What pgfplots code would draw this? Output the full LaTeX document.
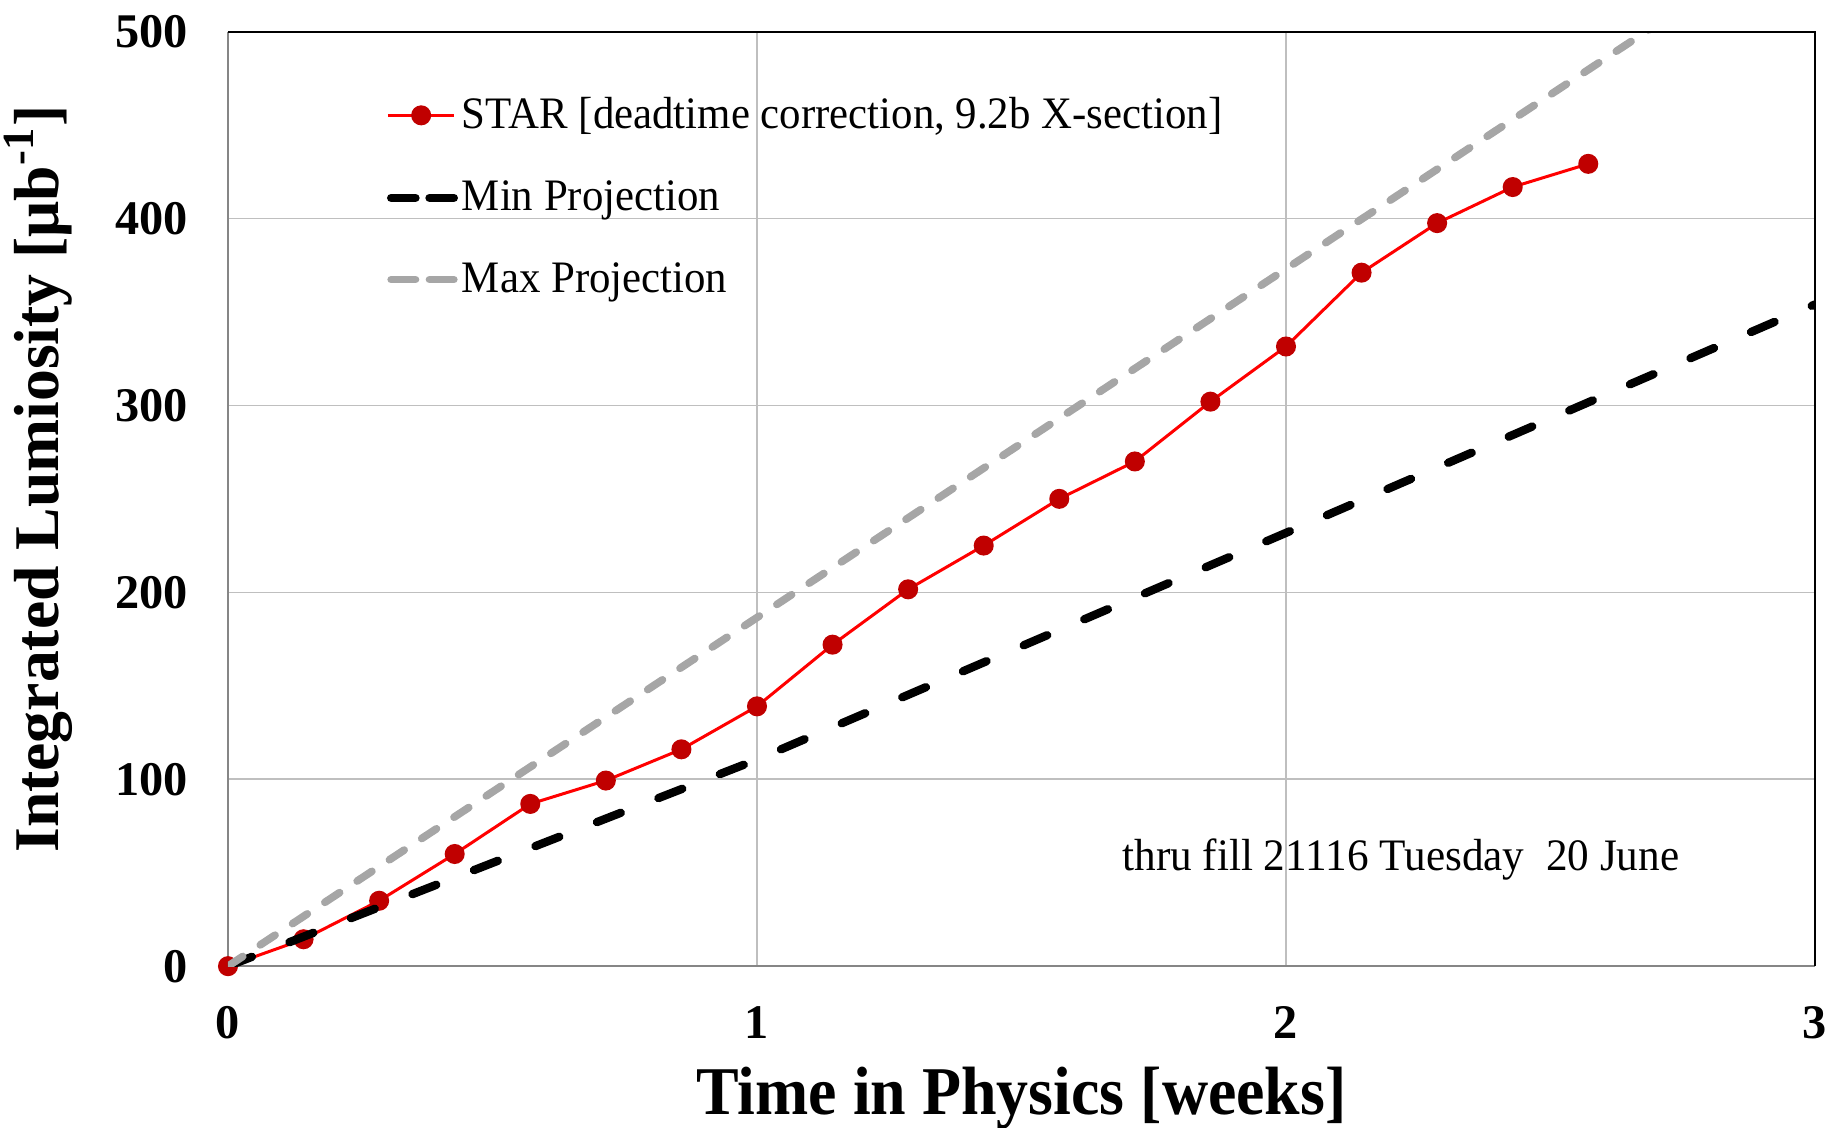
\documentclass[border=0pt]{standalone}
\usepackage{pgfplots}
\pgfplotsset{compat=1.18}
\usepackage{fontspec}
\setmainfont{Liberation Serif}
\definecolor{starred}{HTML}{FF0000}
\definecolor{markred}{HTML}{C00000}
\definecolor{maxgray}{HTML}{A6A6A6}
\definecolor{gridgray}{HTML}{BFBFBF}
\definecolor{axisgray}{HTML}{868686}

\begin{document}
\begin{tikzpicture}
\useasboundingbox (-68.4pt,-48.3pt) rectangle (480.6pt,289.85pt);
\begin{axis}[
  scale only axis, width=476.1pt, height=280.4pt,
  xmin=0, xmax=3, ymin=0, ymax=500,
  xtick={0,1,2,3}, ytick={0,100,200,300,400,500},
  axis x line*=bottom, axis y line*=left,
  axis line style={axisgray, line width=0.5pt},
  grid=major, major grid style={gridgray, line width=0.45pt},
  major tick length=0pt,
  clip mode=individual,
  /pgf/number format/assume math mode=true,
  tick label style={font=\fontsize{14.5}{14.5}\selectfont\bfseries},
  yticklabel style={anchor=east, inner sep=0pt, xshift=-11.8pt},
  xticklabel style={anchor=north, inner sep=0pt, yshift=-12pt},
  xlabel={\scalebox{0.935}[1]{Time in Physics [weeks]}},
  ylabel={Integrated Lumiosity [μb\textsuperscript{-1}]},
  xlabel style={at={(axis description cs:0.5,-0.141)}, anchor=center, font=\fontsize{20.5}{20.5}\selectfont\bfseries},
  ylabel style={at={(axis description cs:-0.1195,0.521)}, anchor=center, font=\fontsize{19.1}{19.1}\selectfont\bfseries},
  legend style={draw=none, fill=none, at={(axis cs:0.293,411.4)}, anchor=west,
    font=\fontsize{13.5}{13.5}\selectfont, row sep=12.1pt, inner sep=0pt, nodes={inner sep=1pt}},
  legend cell align=left,
  legend image code/.code={\draw[mark repeat=2,mark phase=2,#1] plot coordinates {(0pt,0pt) (10pt,0pt) (20pt,0pt)};},
]
\addplot[starred, line width=0.9pt, mark=*, mark size=2.55pt, mark options={fill=markred, draw=markred}, forget plot] coordinates {
(0,0) (0.142857,14.4) (0.285714,35) (0.428571,60) (0.571429,86.8) (0.714286,99.3)
(0.857143,116) (1,139) (1.142857,172) (1.285714,201.6) (1.428571,225) (1.571429,250)
(1.714286,270) (1.857143,302) (2,331.5) (2.142857,371) (2.285714,397.5) (2.428571,416.8) (2.571429,429.2)
};
\addplot[black, line width=2.5pt, line cap=round, line join=round, dash pattern=on 7.7pt off 12.1pt, forget plot] coordinates {(0,0) (1,110.5) (2,231.8) (3,354)};
\addplot[maxgray, line width=2.3pt, line cap=round, dash pattern=on 5.3pt off 6.3pt, forget plot] coordinates {(0,0) (3,559.5)};

\addlegendimage{starred, line width=0.9pt, mark=*, mark size=2.55pt, mark options={fill=markred, draw=markred}}
\addlegendentry{\scalebox{0.952}[1]{STAR [deadtime correction, 9.2b X-section]}}
\addlegendimage{black, line width=2.5pt, line cap=round, dash pattern=on 7.3pt off 4.2pt, dash phase=-1pt}
\addlegendentry{\scalebox{0.952}[1]{Min Projection}}
\addlegendimage{maxgray, line width=2.3pt, line cap=round, dash pattern=on 7.3pt off 4.2pt, dash phase=-1pt}
\addlegendentry{\scalebox{0.952}[1]{Max Projection}}

\node[font=\fontsize{13.5}{13.5}\selectfont] at (axis cs:2.217,57.3) {\scalebox{0.96}[1]{thru fill 21116 Tuesday\ \ 20 June}};
\draw[black, line width=0.6pt] (rel axis cs:0,1) -- (rel axis cs:1,1) -- (rel axis cs:1,0);
\end{axis}
\end{tikzpicture}
\end{document}
